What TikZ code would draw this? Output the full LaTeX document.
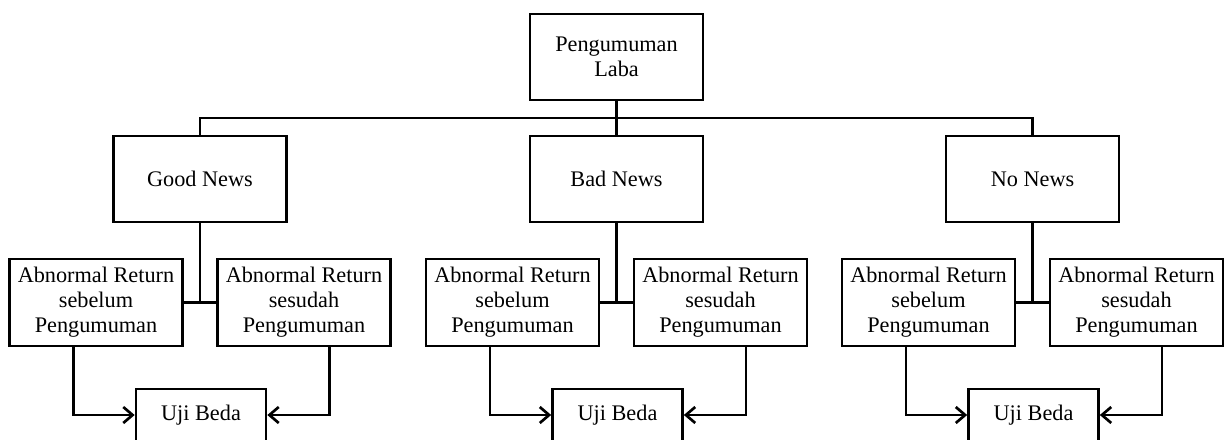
\documentclass[tikz,border=0pt]{standalone}
\usepackage{fontspec}
\setmainfont{Liberation Serif}
\usetikzlibrary{arrows.meta}
\tikzset{
    box/.style={
        rectangle,
        draw,
        line width=2pt,
        minimum width=129.75pt,
        minimum height=64.5pt,
        inner sep=0pt,
        align=center,
        font=\fontsize{16.7}{18.8}\selectfont
    },
    returnbox/.style={
        box,
        minimum height=65.25pt
    },
    ujibox/.style={
        box,
        minimum width=97.5pt,
        minimum height=39pt
    },
    link/.style={
        line width=2pt
    },
    arrow/.style={
        link,
        -{Straight Barb[length=7pt,width=12pt]}
    }
}

\begin{document}
\begin{tikzpicture}[x=0.75pt, y=-0.75pt]
    \useasboundingbox (0,0) rectangle (1227,439);

    \node[box] (laba) at (616.5,57) {Pengumuman\\Laba};
    \coordinate (bus) at (616.5,118);

    \foreach \x/\name/\news in {200/good/Good News, 616.5/bad/Bad News, 1032.5/no/No News} {
        \node[box] (\name) at (\x,179) {\news};
        \node[returnbox] (\name sb) at (\x-104,302.5) {Abnormal Return\\sebelum\\Pengumuman};
        \node[returnbox] (\name ss) at (\x+104,302.5) {Abnormal Return\\sesudah\\Pengumuman};
        \node[ujibox] (\name uji) at (\x+1,415) {Uji Beda};

        \draw[link] (\name sb.east) -- (\name ss.west);
        \draw[link] (\name.south) -- (\name.south |- \name sb.east);
        \draw[arrow] ([xshift=-17pt]\name sb.south) |- (\name uji.west);
        \draw[arrow] ([xshift=19pt]\name ss.south) |- (\name uji.east);
    }

    \draw[link] (good.north) |- (bus) -| (no.north);
    \draw[link] (laba.south) -- (bad.north);

\end{tikzpicture}
\end{document}
